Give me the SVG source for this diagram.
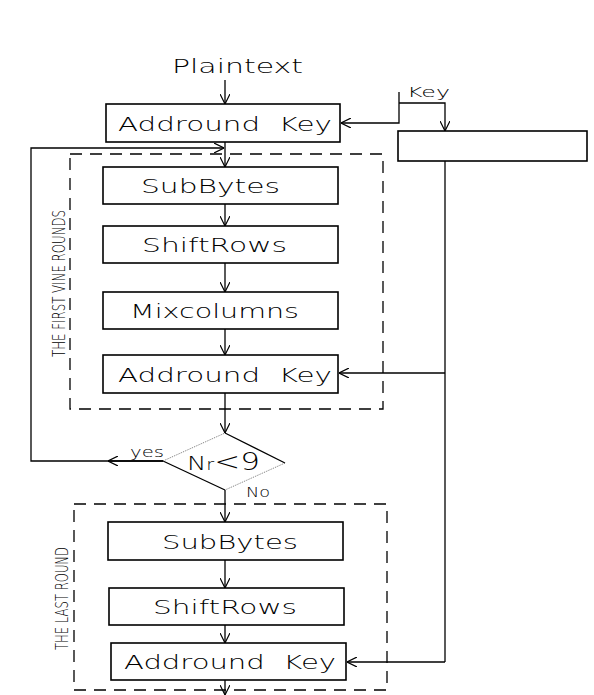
<svg xmlns="http://www.w3.org/2000/svg" width="594" height="695" viewBox="0 0 594 695">
<style>
.box{fill:#fff;stroke:#000;stroke-width:1.6}
.t{font-family:"DejaVu Sans","Liberation Sans",sans-serif;font-weight:200;font-size:20px;fill:#000}
.s{font-family:"DejaVu Sans","Liberation Sans",sans-serif;font-weight:200;font-size:14px;fill:#000}
.v{font-family:"DejaVu Sans","Liberation Sans",sans-serif;font-weight:200;font-size:17px;fill:#000}
.ln{fill:none;stroke:#000;stroke-width:1.3}
.dash{fill:none;stroke:#000;stroke-width:1.3;stroke-dasharray:12 8}
</style>
<defs>
<marker id="a" viewBox="0 0 10 10" refX="10" refY="5" markerWidth="10" markerHeight="10" markerUnits="userSpaceOnUse" orient="auto">
<path d="M0,0 L10,5 L0,10" fill="none" stroke="#000" stroke-width="1.2"/>
</marker>
</defs>
<g id="connectors">
<line class="ln" x1="225" y1="80" x2="225" y2="104" marker-end="url(#a)"/>
<polyline class="ln" points="399,92 399,123 341,123" marker-end="url(#a)"/>
<polyline class="ln" points="399,103 445,103 445,131" marker-end="url(#a)"/>
<line class="ln" x1="445" y1="161" x2="445" y2="662"/>
<line class="ln" x1="445" y1="373" x2="339" y2="373" marker-end="url(#a)"/>
<line class="ln" x1="445" y1="662" x2="347" y2="662" marker-end="url(#a)"/>
<line class="ln" x1="225" y1="142" x2="225" y2="167" marker-end="url(#a)"/>
<line class="ln" x1="225" y1="204" x2="225" y2="226" marker-end="url(#a)"/>
<line class="ln" x1="225" y1="263" x2="225" y2="292" marker-end="url(#a)"/>
<line class="ln" x1="225" y1="329" x2="225" y2="355" marker-end="url(#a)"/>
<line class="ln" x1="225" y1="393" x2="225" y2="433" marker-end="url(#a)"/>
<polyline class="ln" points="163,461 31,461 31,148 224,148" marker-end="url(#a)"/>
<line class="ln" x1="163" y1="461" x2="108" y2="461" marker-end="url(#a)"/>
<line class="ln" x1="225" y1="490" x2="225" y2="522" marker-end="url(#a)"/>
<line class="ln" x1="225" y1="560" x2="225" y2="588" marker-end="url(#a)"/>
<line class="ln" x1="225" y1="625" x2="225" y2="643" marker-end="url(#a)"/>
<line class="ln" x1="225" y1="680" x2="225" y2="695" marker-end="url(#a)"/>
</g>
<g id="round1">
<rect class="dash" x="70" y="154" width="313" height="255"/>
<text class="v" transform="translate(65,357) rotate(-90)" textLength="147" lengthAdjust="spacingAndGlyphs">THE FIRST VINE ROUNDS</text>
</g>
<g id="round2">
<rect class="dash" x="74" y="504" width="313" height="186"/>
<text class="v" font-size="15" transform="translate(68,650) rotate(-90)" textLength="103" lengthAdjust="spacingAndGlyphs">THE LAST ROUND</text>
</g>
<g id="plaintext">
<text class="t" x="172" y="73" textLength="131" lengthAdjust="spacingAndGlyphs">Plaintext</text>
</g>
<g id="addkey0">
<rect class="box" x="106" y="104" width="234" height="38"/>
<text class="t" x="118" y="131" textLength="214" lengthAdjust="spacingAndGlyphs" xml:space="preserve">Addround  Key</text>
</g>
<g id="keyinput">
<text class="s" x="407" y="97" textLength="43" lengthAdjust="spacingAndGlyphs">Key</text>
</g>
<g id="keyschedule">
<rect class="box" x="398" y="131" width="189" height="30"/>
</g>
<g id="subbytes1">
<rect class="box" x="103" y="167" width="235" height="37"/>
<text class="t" x="141" y="193" textLength="139" lengthAdjust="spacingAndGlyphs">SubBytes</text>
</g>
<g id="shiftrows1">
<rect class="box" x="103" y="226" width="235" height="37"/>
<text class="t" x="142" y="252" textLength="145" lengthAdjust="spacingAndGlyphs">ShiftRows</text>
</g>
<g id="mixcolumns">
<rect class="box" x="103" y="292" width="235" height="37"/>
<text class="t" x="130" y="318" textLength="169" lengthAdjust="spacingAndGlyphs">Mixcolumns</text>
</g>
<g id="addkey1">
<rect class="box" x="103" y="355" width="235" height="38"/>
<text class="t" x="118" y="382" textLength="214" lengthAdjust="spacingAndGlyphs" xml:space="preserve">Addround  Key</text>
</g>
<g id="decision">
<line x1="225" y1="433" x2="285" y2="463" stroke="#000" stroke-width="1.3"/>
<line x1="285" y1="463" x2="225" y2="490" stroke="#555" stroke-width="0.8" stroke-dasharray="1 1"/>
<line x1="225" y1="490" x2="163" y2="461" stroke="#000" stroke-width="1.3"/>
<line x1="163" y1="461" x2="225" y2="433" stroke="#555" stroke-width="0.8" stroke-dasharray="1 1"/>
<text class="t" x="187" y="470" textLength="73" lengthAdjust="spacingAndGlyphs">N<tspan font-size="15">r</tspan><tspan font-size="24">&lt;9</tspan></text>
<text class="s" x="130" y="457" textLength="34" lengthAdjust="spacingAndGlyphs">yes</text>
<text class="s" x="246" y="497" textLength="24" lengthAdjust="spacingAndGlyphs">No</text>
</g>
<g id="subbytes2">
<rect class="box" x="108" y="522" width="235" height="38"/>
<text class="t" x="162" y="549" textLength="136" lengthAdjust="spacingAndGlyphs">SubBytes</text>
</g>
<g id="shiftrows2">
<rect class="box" x="109" y="588" width="235" height="37"/>
<text class="t" x="153" y="614" textLength="144" lengthAdjust="spacingAndGlyphs">ShiftRows</text>
</g>
<g id="addkey2">
<rect class="box" x="111" y="643" width="235" height="37"/>
<text class="t" x="124" y="669" textLength="212" lengthAdjust="spacingAndGlyphs" xml:space="preserve">Addround  Key</text>
</g>
</svg>
